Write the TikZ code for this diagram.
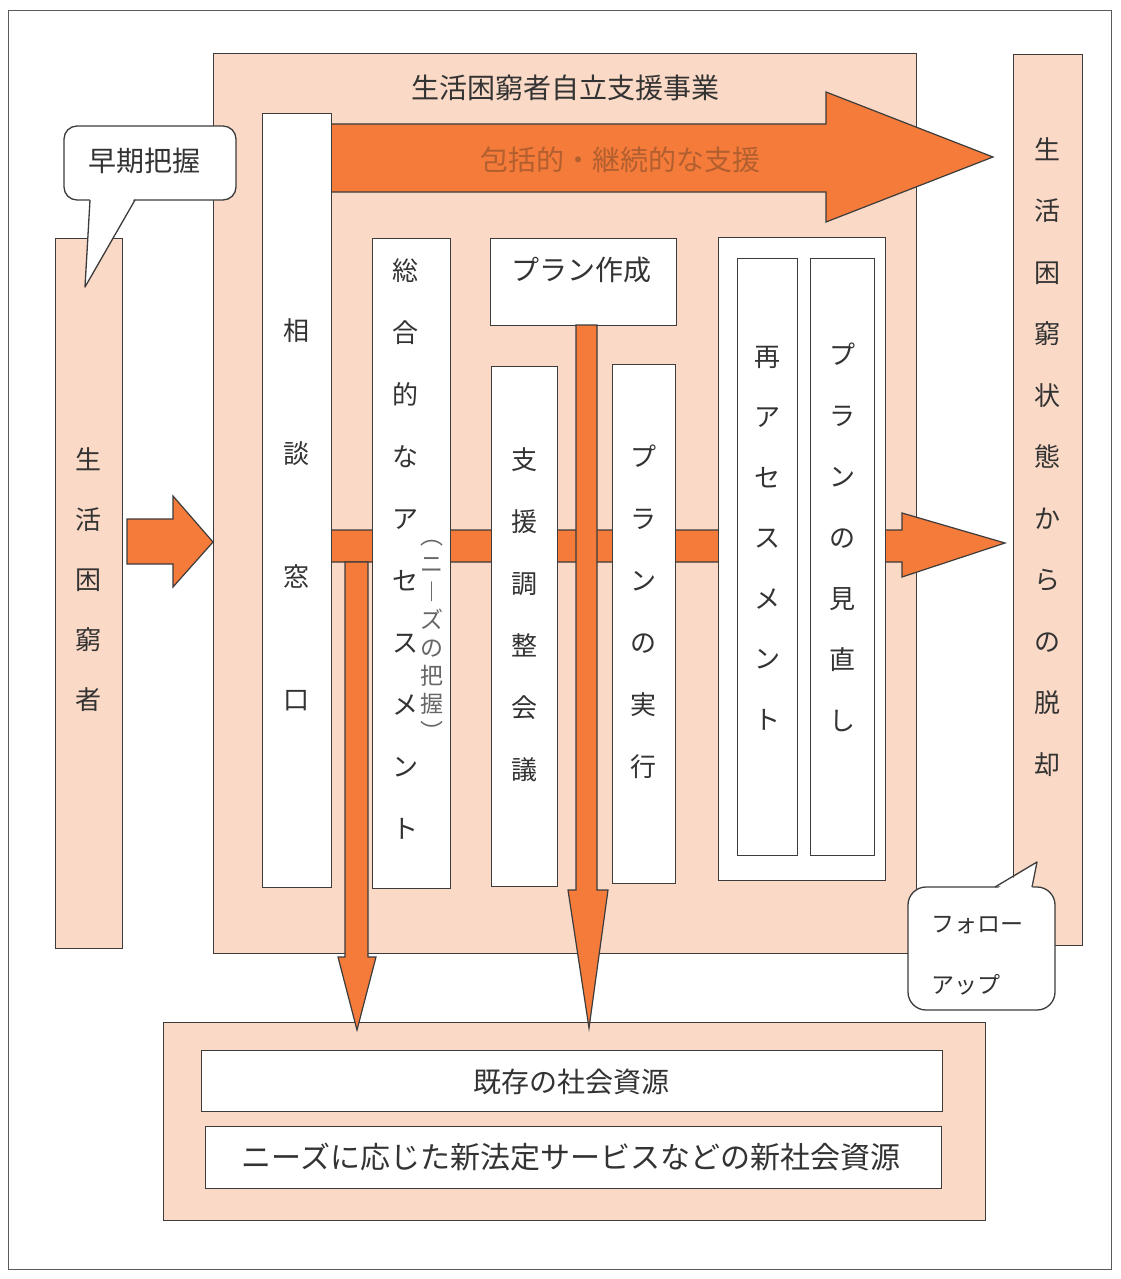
\documentclass[tikz,border=0pt]{standalone}
\usepackage{fontspec}
\setmainfont{Noto Sans CJK JP}
\definecolor{peach}{HTML}{FAD9C6}
\definecolor{org}{HTML}{F47B3A}
\definecolor{edge}{HTML}{3C3C3C}
\definecolor{txt}{HTML}{333333}
\definecolor{brn}{HTML}{B25F30}
\newcommand\mybox[6]{\node[#1, anchor=north west, minimum width={#5-#3}, minimum height={#6-#4}] (#2) at (#3,#4) {};}
\begin{document}
\begin{tikzpicture}[x=1pt,y=-1pt,
  pbox/.style={draw=edge, line width=1.4pt, fill=peach, inner sep=0pt},
  wbox/.style={draw=edge, line width=1.4pt, fill=white, inner sep=0pt},
  oarrow/.style={draw=edge, line width=1.2pt, fill=org, line join=miter},
  vt/.style={align=center, inner sep=0pt, text=txt},
  ht/.style={inner sep=0pt, text=txt},
  bubble/.style={draw=edge, line width=1.3pt, fill=white, rounded corners=13pt, inner sep=0pt}]
\useasboundingbox (0,0) rectangle (1120,1279);
\fill[white] (0,0) rectangle (1120,1279);
% outer frame
\mybox{draw=black!65, line width=1.4pt, inner sep=0pt}{frame}{8}{10}{1111}{1269}
% main peach boxes
\mybox{pbox}{main}{213}{53}{916}{953}
\mybox{pbox}{person}{55}{238}{122}{948}
\mybox{pbox}{exit}{1013}{54}{1082}{945}
\mybox{pbox}{res}{163}{1022}{985}{1220}
% left block arrow
\draw[oarrow] (127,519) -- (173,519) -- (173,496) -- (213,542) -- (173,587) -- (173,564) -- (127,564) -- cycle;
% big arrow
\fill[org] (331,124) -- (826,124) -- (826,92) -- (993,157) -- (826,222) -- (826,192) -- (331,192) -- cycle;
\draw[edge, line width=1.2pt, line join=miter] (331,124) -- (826,124) -- (826,92) -- (993,157) -- (826,222) -- (826,192) -- (331,192);
% horizontal band arrow
\fill[org] (331,530) -- (902,530) -- (902,513) -- (1005,543) -- (902,577) -- (902,562) -- (331,562) -- cycle;
\draw[edge, line width=1.2pt, line join=miter] (331,530) -- (902,530) -- (902,513) -- (1005,543) -- (902,577) -- (902,562) -- (331,562);
% white boxes
\mybox{wbox}{sodan}{262}{113}{331}{887}
\mybox{wbox}{assess}{372}{238}{450}{888}
\mybox{wbox}{plan}{490}{238}{676}{325}
\mybox{wbox}{chosei}{491}{366}{557}{886}
\mybox{wbox}{jikko}{612}{364}{675}{883}
\mybox{wbox}{group}{718}{237}{885}{880}
\mybox{wbox}{reassess}{737}{258}{797}{855}
\mybox{wbox}{review}{810}{258}{874}{855}
\mybox{wbox}{kizon}{201}{1050}{942}{1111}
\mybox{wbox}{shin}{205}{1126}{941}{1188}
% vertical arrows
\draw[oarrow] (345,562) -- (345,957) -- (338,957) -- (357,1030) -- (376,957) -- (368,957) -- (368,562) -- cycle;
\draw[oarrow] (576,325) -- (576,890) -- (568,890) -- (589,1028) -- (608,890) -- (597,890) -- (597,325) -- cycle;
% texts
\node[ht, font=\fontsize{28}{34}\selectfont] (title) at (565,88) {生活困窮者自立支援事業};
\node[ht, text=brn, font=\fontsize{28}{34}\selectfont] (hokatsu) at (620,160) {包括的・継続的な支援};
\node[ht, font=\fontsize{28}{34}\selectfont] (plantxt) at (581,270) {プラン作成};
\node[ht, font=\fontsize{28}{34}\selectfont] (kizontxt) at (571,1082) {既存の社会資源};
\node[ht, font=\fontsize{30}{36}\selectfont] (shintxt) at (571,1157) {ニーズに応じた新法定サービスなどの新社会資源};
\node[vt, font=\fontsize{26}{60}\selectfont] (persontxt) at (88,580) {生\\活\\困\\窮\\者};
\node[vt, font=\fontsize{26}{123}\selectfont] (sodantxt) at (296,515) {相\\談\\窓\\口};
\node[vt, font=\fontsize{26}{62}\selectfont] (assesstxt) at (405,549) {総\\合\\的\\な\\ア\\セ\\ス\\メ\\ン\\ト};
\node[vt, text=black!60, font=\fontsize{23}{28}\selectfont] (needs) at (432,640) {︵\\ニ\\︱\\ズ\\の\\把\\握\\︶};
\node[vt, font=\fontsize{26}{62}\selectfont] (choseitxt) at (524,615) {支\\援\\調\\整\\会\\議};
\node[vt, font=\fontsize{26}{62}\selectfont] (jikkotxt) at (643,612) {プ\\ラ\\ン\\の\\実\\行};
\node[vt, font=\fontsize{26}{60.5}\selectfont] (reassesstxt) at (767,538) {再\\ア\\セ\\ス\\メ\\ン\\ト};
\node[vt, font=\fontsize{26}{61}\selectfont] (reviewtxt) at (842,537) {プ\\ラ\\ン\\の\\見\\直\\し};
\node[vt, font=\fontsize{26}{61.5}\selectfont] (exittxt) at (1047,457) {生\\活\\困\\窮\\状\\態\\か\\ら\\の\\脱\\却};
% callout: early
\node[bubble, minimum width=172pt, minimum height=74pt] (early) at (150,163) {};
\node[ht, font=\fontsize{28}{34}\selectfont] (earlytxt) at (144,161) {早期把握};
\fill[white] (90,197) -- (85,287) -- (135,197) -- cycle;
\draw[edge, line width=1.3pt, line join=round] (90,200) -- (85,287) -- (135,200);
% callout: follow-up
\node[bubble, rounded corners=18pt, minimum width=147pt, minimum height=123pt] (follow) at (981.5,948.5) {};
\fill[white] (995,890) -- (1037,862) -- (1032,890) -- cycle;
\draw[edge, line width=1.3pt, line join=round] (995,887) -- (1037,862) -- (1032,887);
\node[ht, anchor=west, font=\fontsize{23}{28}\selectfont] (followtxt1) at (931,925) {フォロー};
\node[ht, anchor=west, font=\fontsize{23}{28}\selectfont] (followtxt2) at (931,985) {アップ};
\end{tikzpicture}
\end{document}
